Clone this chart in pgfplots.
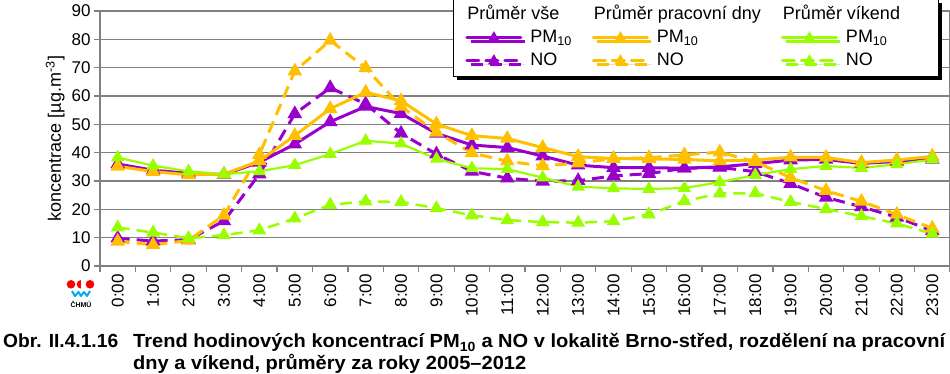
\documentclass[border=0pt]{standalone}
\usepackage{fontspec}
\setmainfont{Liberation Sans}
\usepackage{graphicx}
\usepackage{pgfplots}
\usepackage{pgfplotstable}
\pgfplotsset{compat=1.18}
\usetikzlibrary{shadows}
\definecolor{cvse}{RGB}{153,0,204}
\definecolor{cprac}{RGB}{255,192,0}
\definecolor{cvik}{RGB}{153,255,0}
\definecolor{gridg}{RGB}{128,128,128}

\pgfplotstableread{
h pmv nov pmp nop pmk nok
0 36.0 9.8 35.2 8.7 38.3 13.6
1 33.8 8.8 33.3 7.5 35.4 11.8
2 32.7 9.3 32.2 9.0 33.4 9.8
3 32.3 15.9 32.4 17.9 32.4 10.9
4 36.6 32.4 37.1 39.3 33.4 12.6
5 43.0 53.7 46.0 68.8 35.6 16.8
6 50.9 62.9 55.5 79.6 39.5 21.6
7 56.3 57.2 61.3 69.9 44.2 22.8
8 53.8 46.8 58.3 56.3 43.2 22.6
9 46.8 39.5 50.1 47.2 37.8 20.4
10 42.7 33.4 46.0 39.9 34.5 17.9
11 41.8 31.0 45.0 37.0 34.2 16.2
12 38.8 29.9 41.8 35.3 31.2 15.5
13 35.6 30.1 38.6 36.3 28.0 15.3
14 34.7 31.8 37.9 37.9 27.4 15.8
15 34.7 32.6 37.8 38.2 27.2 18.2
16 34.5 34.5 37.6 39.2 27.5 22.9
17 35.0 34.8 37.1 40.2 29.6 25.6
18 36.1 33.3 37.4 36.8 32.1 25.7
19 37.4 29.1 38.4 31.2 34.2 22.6
20 37.6 24.2 38.3 26.6 35.3 20.1
21 36.2 20.9 36.5 22.8 34.6 17.6
22 36.9 17.2 37.4 18.2 35.9 15.0
23 37.6 12.4 38.7 13.3 37.6 11.4
}\data

\pgfplotsset{
  solidser/.style={#1, line width=3pt, mark=triangle*, mark size=5.5pt, mark options={solid, fill=#1}},
  dashser/.style={#1, line width=3pt, dash pattern=on 12pt off 7pt, mark=triangle*, mark size=5.5pt, mark options={solid, fill=#1}},
}
\newcommand{\hd}[1]{\hspace*{-63pt}#1}

\begin{document}
\begin{tikzpicture}
\path[use as bounding box] (-100pt,-108pt) rectangle (850pt,266pt);
\begin{axis}[
  at={(0pt,0pt)}, anchor=south west,
  scale only axis, width=850pt, height=255pt,
  xmin=-0.5, xmax=23.5, ymin=0, ymax=90,
  xtick={-0.5,0.5,...,23.5},
  x tick label as interval,
  xticklabels={0:00,1:00,2:00,3:00,4:00,5:00,6:00,7:00,8:00,9:00,10:00,11:00,12:00,13:00,14:00,15:00,16:00,17:00,18:00,19:00,20:00,21:00,22:00,23:00},
  xticklabel style={rotate=90, anchor=east, font=\fontsize{17}{20}\selectfont, inner sep=2pt},
  ytick={0,10,...,90},
  yticklabel style={font=\fontsize{17}{20}\selectfont},
  /pgf/number format/assume math mode=true,
  tick align=outside, tick pos=left, major tick length=6pt,
  tick style={gridg, line width=1.3pt},
  axis line style={gridg, line width=2pt},
  ymajorgrids, grid style={gridg, line width=1.2pt},
  ylabel={koncentrace [µg.m\textsuperscript{-3}]},
  ylabel style={font=\fontsize{18}{20}\selectfont},
  legend columns=3,
  legend cell align=left,
  legend image code/.code={\draw[mark repeat=2, mark phase=2, #1, mark size=3.8pt, line cap=round] plot coordinates {(0pt,0pt) (27pt,0pt) (54pt,0pt)};},
  legend style={at={(axis description cs:0.4153,1.047)}, anchor=north west,
    draw=black, line width=0.8pt, fill=white,
    font=\fontsize{18}{20}\selectfont,
    nodes={inner xsep=0pt, inner ysep=0pt, text height=13pt, text depth=4pt},
    drop shadow={shadow xshift=4pt, shadow yshift=-4pt, fill=black, opacity=1},
    /tikz/every odd column/.append style={column sep=8pt},
    /tikz/every even column/.append style={column sep=20pt},
    row sep=6pt, inner xsep=12pt, inner ysep=7pt},
]
\addplot[solidser=cvse, forget plot] table[x=h, y=pmv] {\data};
\addplot[dashser=cvse, forget plot] table[x=h, y=nov] {\data};
\addplot[solidser=cprac, forget plot] table[x=h, y=pmp] {\data};
\addplot[dashser=cprac, forget plot] table[x=h, y=nop] {\data};
\addplot[solidser=cvik, line width=2.2pt, forget plot] table[x=h, y=pmk] {\data};
\addplot[dashser=cvik, line width=2.5pt, forget plot] table[x=h, y=nok] {\data};

\addlegendimage{empty legend}\addlegendentry{\hd{Průměr vše}}
\addlegendimage{empty legend}\addlegendentry{\hd{Průměr pracovní dny}}
\addlegendimage{empty legend}\addlegendentry{\hd{Průměr víkend}\hspace*{26pt}}
\addlegendimage{solidser=cvse}\addlegendentry{PM\textsubscript{10}}
\addlegendimage{solidser=cprac}\addlegendentry{PM\textsubscript{10}}
\addlegendimage{solidser=cvik}\addlegendentry{PM\textsubscript{10}}
\addlegendimage{dashser=cvse}\addlegendentry{NO}
\addlegendimage{dashser=cprac}\addlegendentry{NO}
\addlegendimage{dashser=cvik}\addlegendentry{NO}
\end{axis}
% logo
\fill[red] (-29pt,-18.3pt) circle (4.3pt);
\fill[red] (-10pt,-18.3pt) circle (4.3pt);
\fill[red] (-19pt,-14pt) arc[start angle=90, end angle=270, radius=4.3pt] -- cycle;
\draw[cyan, line width=2pt, line join=round] (-28pt,-25pt) -- (-25pt,-30pt) -- (-21.5pt,-26pt) -- (-19pt,-30pt) -- (-16pt,-26pt) -- (-13pt,-30pt) -- (-10pt,-25pt);
\node[font=\bfseries\fontsize{7}{8}\selectfont, inner sep=0pt] at (-19pt,-38pt) {ČHMÚ};
% caption
\node[anchor=base west, inner sep=0pt, font=\bfseries\fontsize{19}{21}\selectfont] at (-97pt,-82pt) {\resizebox{115pt}{\height}{Obr. II.4.1.16}};
\node[anchor=base west, inner sep=0pt, font=\bfseries\fontsize{19}{21}\selectfont] at (33pt,-82pt) {\resizebox{812pt}{\height}{Trend hodinových koncentrací PM\textsubscript{10} a NO v lokalitě Brno-střed, rozdělení na pracovní}};
\node[anchor=base west, inner sep=0pt, font=\bfseries\fontsize{19}{21}\selectfont] at (33pt,-103.5pt) {\resizebox{393pt}{\height}{dny a víkend, průměry za roky 2005–2012}};
\end{tikzpicture}
\end{document}
